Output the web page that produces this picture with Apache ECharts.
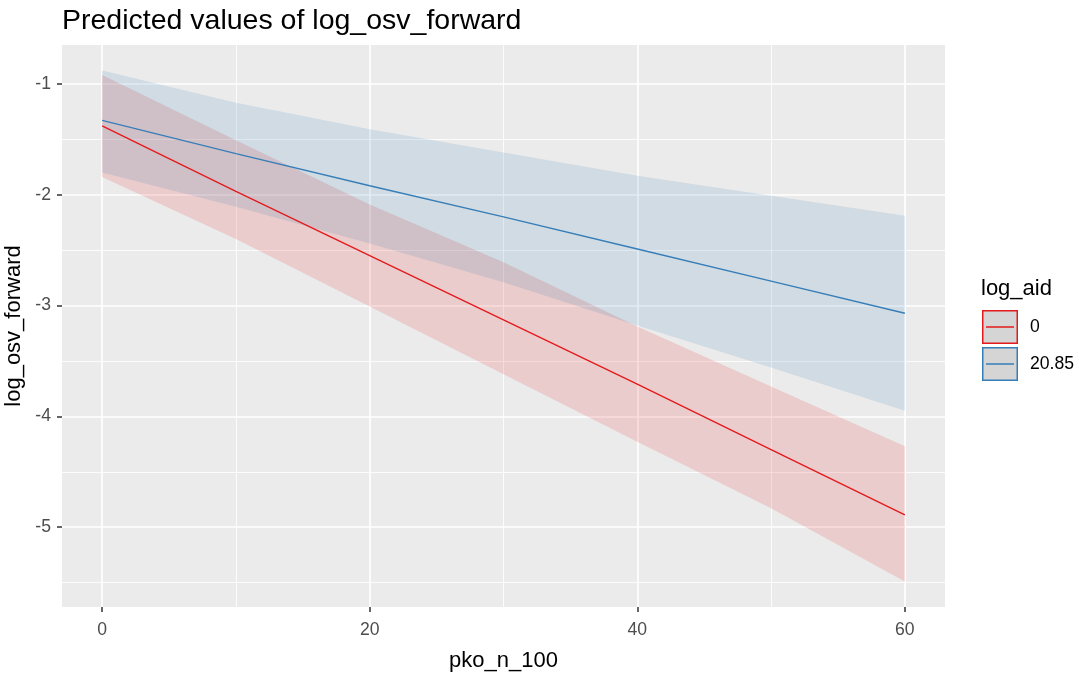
<!DOCTYPE html>
<html><head><meta charset="utf-8">
<script src="https://cdn.jsdelivr.net/npm/echarts@6/dist/echarts.min.js"></script>
<style>html,body{margin:0;padding:0;background:#fff}#c{width:1085px;height:675px}</style>
</head><body><div id="c"></div>
<script>
const xValues = [0, 10, 20, 30, 40, 50, 60];
const fit0   = [-1.38, -1.97, -2.55, -3.13, -3.71, -4.30, -4.89];
const lower0 = [-1.84, -2.40, -3.01, -3.62, -4.23, -4.83, -5.49];
const upper0 = [-0.92, -1.51, -2.09, -2.61, -3.19, -3.73, -4.27];
const fit1   = [-1.33, -1.63, -1.92, -2.20, -2.49, -2.78, -3.07];
const lower1 = [-1.80, -2.11, -2.44, -2.79, -3.18, -3.56, -3.95];
const upper1 = [-0.88, -1.17, -1.41, -1.62, -1.83, -2.01, -2.19];
const xTicks = [0, 20, 40, 60];
const xMinor = [10, 30, 50];
const yTicks = [-5, -4, -3, -2, -1];
const yMinor = [-5.5, -4.5, -3.5, -2.5, -1.5];
const groupNames = ['0', '20.85'];
const titleText = 'Predicted values of log_osv_forward';
const xName = 'pko_n_100';
const yName = 'log_osv_forward';
const legendTitle = 'log_aid';

const RED = '#E41A1C', BLUE = '#377EB8';
const FONT = "'Liberation Sans', Arial, sans-serif";
const pairs = (ys) => xValues.map((x, i) => [x, ys[i]]);

const gridLines = [];
xTicks.forEach(v => gridLines.push({xAxis: v, lineStyle: {width: 1.7}}));
xMinor.forEach(v => gridLines.push({xAxis: v, lineStyle: {width: 0.85}}));
yTicks.forEach(v => gridLines.push({yAxis: v, lineStyle: {width: 1.7}}));
yMinor.forEach(v => gridLines.push({yAxis: v, lineStyle: {width: 0.85}}));

function ribbon(name, lo, hi, fill) {
  return {
    name: name, type: 'custom', z: 2, silent: true, clip: true,
    data: xValues.map((x, i) => [x, lo[i], hi[i]]),
    encode: {x: 0, y: [1, 2]},
    renderItem: function (params, api) {
      if (params.dataIndex !== 0) return null;
      const pts = [];
      for (let i = 0; i < xValues.length; i++) pts.push(api.coord([xValues[i], hi[i]]));
      for (let i = xValues.length - 1; i >= 0; i--) pts.push(api.coord([xValues[i], lo[i]]));
      return {type: 'polygon', shape: {points: pts}, style: {fill: fill, stroke: null}};
    }
  };
}

const framePath = 'path://M0,0L36,0L36,34L0,34Z M1.5,1.5L1.5,32.5L34.5,32.5L34.5,1.5Z M4,16.25L32,16.25L32,17.75L4,17.75Z';

const chart = echarts.init(document.getElementById('c'), null, {renderer: 'canvas'});
chart.setOption({
  animation: false,
  backgroundColor: '#fff',
  textStyle: {fontFamily: FONT},
  title: [
    {text: titleText, left: 58, top: 3, padding: [4, 4],
     textStyle: {fontFamily: FONT, fontSize: 28.5, fontWeight: 'normal', color: '#000'}},
    {text: legendTitle, left: 977, top: 276, padding: [2, 4],
     textStyle: {fontFamily: FONT, fontSize: 22, fontWeight: 'normal', color: '#000'}}
  ],
  grid: {left: 62, right: 140, top: 45, bottom: 68, show: true,
         backgroundColor: '#EBEBEB', borderWidth: 0, containLabel: false,
         outerBoundsMode: 'none'},
  legend: [
    {data: groupNames.map(n => ({name: n, itemStyle: {color: '#D5D5D5', borderWidth: 0}})),
     icon: 'rect', orient: 'vertical', left: 982, top: 310, padding: 0,
     itemWidth: 36, itemHeight: 34, itemGap: 3, selectedMode: false,
     textStyle: {fontFamily: FONT, fontSize: 17.6, color: '#000', padding: [0, 0, 0, 7]}},
    {data: groupNames.map((n, i) => ({name: n, itemStyle: {color: i === 0 ? RED : BLUE, borderWidth: 0}})),
     icon: framePath, orient: 'vertical', left: 982, top: 310, padding: 0,
     itemWidth: 36, itemHeight: 34, itemGap: 3, selectedMode: false,
     textStyle: {fontFamily: FONT, fontSize: 17.6, color: 'rgba(0,0,0,0)', padding: [0, 0, 0, 7]}}
  ],
  xAxis: {
    type: 'value', min: -3, max: 63,
    name: xName, nameLocation: 'middle', nameGap: 43,
    nameTextStyle: {fontFamily: FONT, fontSize: 22, color: '#000'},
    axisLine: {show: false, onZero: false},
    axisTick: {show: true, length: 5, customValues: xTicks, lineStyle: {color: '#333', width: 1.5}},
    axisLabel: {customValues: xTicks, margin: 14, fontFamily: FONT, fontSize: 17.6, color: '#4D4D4D'},
    splitLine: {show: false}
  },
  yAxis: {
    type: 'value', min: -5.72, max: -0.65,
    name: yName, nameLocation: 'middle', nameGap: 29, nameRotate: 90,
    nameTextStyle: {fontFamily: FONT, fontSize: 22, color: '#000'},
    axisLine: {show: false, onZero: false},
    axisTick: {show: true, length: 5, customValues: yTicks, lineStyle: {color: '#333', width: 1.5}},
    axisLabel: {customValues: yTicks, margin: 11, fontFamily: FONT, fontSize: 17.6, color: '#4D4D4D'},
    splitLine: {show: false}
  },
  series: [
    {name: 'grid', type: 'line', data: [], z: 1, silent: true,
     markLine: {silent: true, symbol: ['none', 'none'], label: {show: false}, z: 1,
                animation: false, lineStyle: {color: '#FFFFFF', type: 'solid', opacity: 1},
                emphasis: {disabled: true}, data: gridLines}},
    ribbon('ribbon0', lower0, upper0, 'rgba(228,26,28,0.15)'),
    ribbon('ribbon1', lower1, upper1, 'rgba(55,126,184,0.15)'),
    {name: groupNames[0], type: 'line', data: pairs(fit0), z: 3, showSymbol: false, symbol: 'none',
     itemStyle: {color: RED}, lineStyle: {color: RED, width: 1.4}},
    {name: groupNames[1], type: 'line', data: pairs(fit1), z: 3, showSymbol: false, symbol: 'none',
     itemStyle: {color: BLUE}, lineStyle: {color: BLUE, width: 1.4}}
  ]
});
</script></body></html>
